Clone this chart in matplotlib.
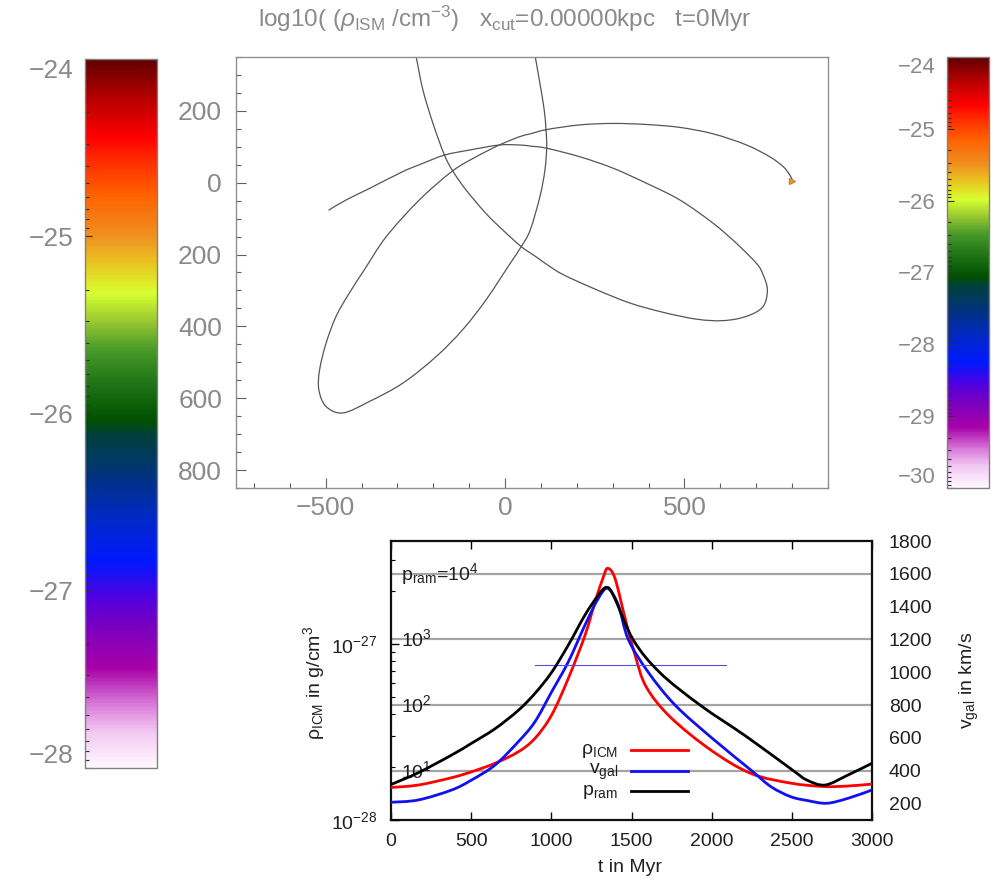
import numpy as np
import matplotlib
matplotlib.use('Agg')
import matplotlib.pyplot as plt
from matplotlib.colors import LinearSegmentedColormap, Normalize
from matplotlib.cm import ScalarMappable
from matplotlib.lines import Line2D
from matplotlib.path import Path
from matplotlib.patches import PathPatch
from matplotlib.ticker import FixedLocator, MultipleLocator

plt.rcParams['mathtext.fontset'] = 'custom'
plt.rcParams['mathtext.rm'] = 'Liberation Sans'
plt.rcParams['mathtext.it'] = 'Liberation Sans:italic'
plt.rcParams['mathtext.bf'] = 'Liberation Sans:bold'
plt.rcParams['mathtext.sf'] = 'Liberation Sans'
plt.rcParams['font.family'] = ['Liberation Sans', 'DejaVu Sans']

# ---------------- data ----------------
# orbit (kpc), two pieces (orbit leaves the frame at the top)
orbit1_x = [-491, -443, -378, -285, -229, -169, -99, -16, 40, 70, 116, 209, 302, 395, 487, 580, 645, 701,
            719, 731, 719, 673, 608, 534, 441, 348, 255, 162, 114, 86, 45, -6, -53, -109, -146, -169,
            -201, -229, -248, -256]
orbit1_y = [-76, -48, -16, 31, 54, 77, 91, 105, 105, 102, 96, 72, 40, -2, -48, -113, -169, -225,
            -256, -298, -345, -372, -384, -380, -361, -335, -298, -256, -226, -206, -178, -132, -86, -20, 33, 77,
            165, 258, 351, 384]
orbit2_x = [78, 84, 97, 109, 114, 116, 111, 97, 70, 45, 12, -53, -118, -192, -285, -378, -452, -499, -519,
            -517, -499, -471, -434, -392, -331, -239, -146, -81, -16, 40, 70, 116, 209, 302, 395, 487, 580,
            673, 738, 775, 794, 801]
orbit2_y = [384, 351, 277, 203, 147, 100, 35, -39, -132, -178, -228, -326, -409, -484, -558, -609, -641, -623,
            -577, -521, -447, -372, -307, -242, -150, -48, 33, 72, 105, 128, 136, 148, 161, 165, 162, 154, 136,
            105, 72, 45, 21, 6]
galaxy_pos = (801, 6)

x_ticks = [-500, 0, 500]
x_ticklabels = ['\u2212500', '0', '500']
y_ticks = [200, 0, -200, -400, -600, -800]
y_ticklabels = ['200', '0', '200', '400', '600', '800']

cbar_left_ticks = [-28, -27, -26, -25, -24]
cbar_right_ticks = [-30, -29, -28, -27, -26, -25, -24]

# time evolution
t_rho = [0, 170, 379, 503, 649, 794, 898, 1002, 1106, 1210, 1273, 1325, 1352, 1397, 1460, 1522, 1591,
         1740, 1994, 2244, 2493, 2697, 2850, 3000]
rho_icm = [1.53, 1.58, 1.74, 1.88, 2.10, 2.44, 2.91, 3.95, 6.38, 11.2, 17.4, 24.1, 26.9, 23.6, 14.0, 8.66,
           5.72, 3.86, 2.50, 1.84, 1.62, 1.55, 1.56, 1.60]          # in 1e-28 g/cm^3
t_v = [0, 170, 379, 503, 649, 794, 898, 1002, 1106, 1210, 1293, 1352, 1418, 1480, 1605, 1772, 2001, 2250,
       2370, 2493, 2600, 2718, 2850, 3000]
v_gal = [208, 222, 283, 344, 435, 577, 699, 881, 1064, 1288, 1450, 1511, 1409, 1200, 1000, 800, 600, 400,
         303, 242, 218, 202, 232, 283]
t_p = [0, 170, 379, 503, 649, 794, 898, 1002, 1106, 1210, 1293, 1346, 1391, 1512, 1678, 1928, 2219, 2510,
       2593, 2707, 2850, 3000]
p_ram = [6.17, 9.33, 17.4, 26.3, 43.7, 83.2, 151, 316, 822, 2358, 4732, 6237, 4467, 977, 311, 100, 32.9,
         10.0, 7.24, 6.06, 8.61, 13.0]
p_levels = [10, 100, 1000, 10000]
p_labels = [r'10$^1$', r'10$^2$', r'10$^3$', r'p$_{\rm ram}$=10$^4$']
v_ref_t = [900, 2090]
v_ref = [1045, 1045]
t_ticks = [0, 500, 1000, 1500, 2000, 2500, 3000]
v_ticks = [200, 400, 600, 800, 1000, 1200, 1400, 1600, 1800]

# ---------------- figure ----------------
W, H = 998, 881
fig = plt.figure(figsize=(W / 100, H / 100), dpi=100)


def rect(l, t, r, b):
    return [l / W, 1 - b / H, (r - l) / W, (b - t) / H]


def smooth_path(x, y, logy=False):
    """Smooth Bezier path through the given points (drawn by matplotlib)."""
    x = np.asarray(x, float)
    y = np.asarray(y, float)
    if logy:
        y = np.log10(y)
    n = len(x)
    pts = np.column_stack([x, y])
    verts = [pts[0]]
    codes = [Path.MOVETO]
    for i in range(n - 1):
        p0 = pts[max(i - 1, 0)]
        p1 = pts[i]
        p2 = pts[i + 1]
        p3 = pts[min(i + 2, n - 1)]
        verts += [p1 + (p2 - p0) / 6.0, p2 - (p3 - p1) / 6.0, p2]
        codes += [Path.CURVE4] * 3
    verts = np.array(verts)
    if logy:
        verts[:, 1] = 10 ** verts[:, 1]
    return Path(verts, codes)


def draw_curve(axis, x, y, color, lw, logy=False):
    patch = PathPatch(smooth_path(x, y, logy), fill=False, edgecolor=color, lw=lw,
                      capstyle='round', joinstyle='round')
    axis.add_patch(patch)
    return patch


GREY = '#8a8a8a'
NARROW = ['Liberation Sans Narrow', 'Liberation Sans', 'DejaVu Sans']

cm_pos = [0.0, 0.05, 0.09, 0.14, 0.20, 0.24, 0.29, 0.35, 0.40, 0.44, 0.47, 0.49, 0.55, 0.59, 0.63, 0.67,
          0.71, 0.75, 0.81, 0.86, 0.89, 0.95, 1.0]
cm_col = ['#fff8ff', '#f2c8f2', '#d878d8', '#a800a8', '#7800c0', '#5000e0', '#0018ff', '#0028c8', '#00308c',
          '#003a5c', '#00403a', '#005000', '#257a18', '#489a28', '#98c830', '#d8ff30', '#e8c820', '#f09020',
          '#ff6000', '#ff2800', '#ff0000', '#b00000', '#600000']
cmap = LinearSegmentedColormap.from_list('idl', list(zip(cm_pos, cm_col)), N=512)

# ---- top orbit panel ----
ax = fig.add_axes(rect(236, 57, 828, 488))
draw_curve(ax, orbit1_x, orbit1_y, '#555555', 0.9)
draw_curve(ax, orbit2_x, orbit2_y, '#555555', 0.9)
ax.plot([galaxy_pos[0]], [galaxy_pos[1]], marker='>', color='#f0a040', ms=4, mec='#d08030')
ax.set_xlim(-750, 900)
ax.set_ylim(-850, 350)
ax.set_xticks(x_ticks)
ax.set_xticklabels(x_ticklabels)
ax.set_yticks(y_ticks)
ax.set_yticklabels(y_ticklabels)
ax.xaxis.set_minor_locator(MultipleLocator(100))
ax.yaxis.set_minor_locator(MultipleLocator(50))
ax.tick_params(which='both', direction='in', color='#606060', labelcolor=GREY, top=False, right=False)
ax.tick_params(which='major', length=7.5, width=0.8)
ax.tick_params(which='minor', length=3.5, width=0.8)
ax.tick_params(axis='x', pad=6)
ax.tick_params(axis='y', pad=10)
for lab in ax.get_xticklabels() + ax.get_yticklabels():
    lab.set_family(NARROW)
    lab.set_fontsize(19)
for s in ax.spines.values():
    s.set_color('#909090')
    s.set_linewidth(1.0)

fig.text(505 / W, 1 - 19 / H,
         r'log10( ($\rho_{\rm ISM}$ /cm$^{-3}$)   x$_{\rm cut}$=0.00000kpc   t=0Myr',
         ha='center', va='center', color=GREY, fontsize=17.5, family=NARROW)


# ---- colorbars ----
def make_cbar(r, vmin, vmax, ticks, fs):
    cax = fig.add_axes(r)
    cb = fig.colorbar(ScalarMappable(norm=Normalize(vmin, vmax), cmap=cmap), cax=cax)
    cb.outline.set_edgecolor('#808080')
    cb.outline.set_linewidth(1.0)
    cax.yaxis.set_ticks_position('left')
    cax.yaxis.set_label_position('left')
    cb.set_ticks(ticks)
    cax.set_yticklabels(['\u2212%d' % abs(v) for v in ticks])
    minor = [b - np.log10(k) for b in range(vmax, vmin, -1) for k in range(2, 10)]
    cax.yaxis.set_minor_locator(FixedLocator(minor))
    cax.tick_params(which='both', direction='in', color='#303030', labelcolor=GREY, labelsize=fs, pad=8)
    cax.tick_params(which='major', length=5, width=0.8)
    cax.tick_params(which='minor', length=3, width=0.8)
    labs = cax.get_yticklabels()
    labs[0].set_va('bottom')
    labs[-1].set_va('top')
    for lab in labs:
        lab.set_family(['Liberation Sans', 'DejaVu Sans'])
    return cax


make_cbar(rect(85, 59, 157, 768), -28, -24, cbar_left_ticks, 19)
make_cbar(rect(947, 57, 989, 488), -30, -24, cbar_right_ticks, 16)

# ---- bottom time-evolution panel ----
rb = rect(391, 541, 872, 820)
p_lim = (10 ** 0.25, 10 ** 4.5)
TXT = '#202020'

axg = fig.add_axes(rb)
axg.set_yscale('log')
axg.set_ylim(*p_lim)
axg.set_xlim(0, 3000)
for p in p_levels:
    axg.axhline(p, color='#a4a4a4', lw=1.6, zorder=1)
for p, lab in zip(p_levels, p_labels):
    axg.text(60, p, lab, ha='left', va='center', fontsize=14, color=TXT, zorder=2)
axg.set_yticks([])
axg.yaxis.set_minor_locator(FixedLocator([]))
axg.set_xticks(t_ticks)
axg.tick_params(axis='x', direction='in', top=True, length=6, width=1.0, labelsize=14, pad=9,
                labelcolor=TXT)
for s in axg.spines.values():
    s.set_linewidth(1.6)
    s.set_color('#101010')

axr = fig.add_axes(rb, sharex=axg)
axr.patch.set_visible(False)
axr.set_yscale('log')
axr.set_ylim(1e-28, 10 ** -26.415)
draw_curve(axr, t_rho, np.array(rho_icm) * 1e-28, '#ff0000', 2.0, logy=True)
axr.tick_params(axis='x', which='both', bottom=False, labelbottom=False)
axr.tick_params(axis='y', which='major', direction='in', length=6, width=1.0, labelsize=14, pad=10,
                labelcolor=TXT)
axr.tick_params(axis='y', which='minor', direction='in', length=3, width=0.8, labelleft=False)
for s in axr.spines.values():
    s.set_visible(False)

axv = fig.add_axes(rb, sharex=axg)
axv.patch.set_visible(False)
axv.set_ylim(100, 1800)
draw_curve(axv, t_v, v_gal, '#1010f0', 2.0)
axv.plot(v_ref_t, v_ref, color='#5050e8', lw=0.8)
axv.yaxis.set_ticks_position('right')
axv.set_yticks(v_ticks)
axv.tick_params(axis='y', length=0, labelsize=14, pad=12, labelcolor=TXT)
axv.tick_params(axis='x', which='both', bottom=False, labelbottom=False)
for s in axv.spines.values():
    s.set_visible(False)

axp = fig.add_axes(rb, sharex=axg)
axp.patch.set_visible(False)
axp.set_yscale('log')
axp.set_ylim(*p_lim)
draw_curve(axp, t_p, p_ram, '#000000', 2.0, logy=True)
axp.axis('off')

# manual legend (text right-aligned, line after the text)
leg_rows = [(750, '\u03c1$_{\\rm ICM}$', '#ff0000'), (771, r'v$_{\rm gal}$', '#1010f0'),
            (791, r'p$_{\rm ram}$', '#000000')]
for y, lab, col in leg_rows:
    fig.text(618 / W, 1 - (y + 1) / H, lab, ha='right', va='center', fontsize=14, color=TXT)
    fig.add_artist(Line2D([631 / W, 688 / W], [1 - y / H, 1 - y / H], color=col, lw=2.0,
                          transform=fig.transFigure))

fig.text(314 / W, 1 - 683 / H, '\u03c1$_{\\rm ICM}$ in g/cm$^3$', rotation=90, ha='center', va='center',
         fontsize=14, color=TXT)
fig.text(969 / W, 1 - 680 / H, r'v$_{\rm gal}$ in km/s', rotation=90, ha='center', va='center',
         fontsize=14, color=TXT)
fig.text(630 / W, 1 - 868 / H, 't in Myr', ha='center', va='center', fontsize=14, color=TXT)

fig.savefig('out.png', dpi=100)
